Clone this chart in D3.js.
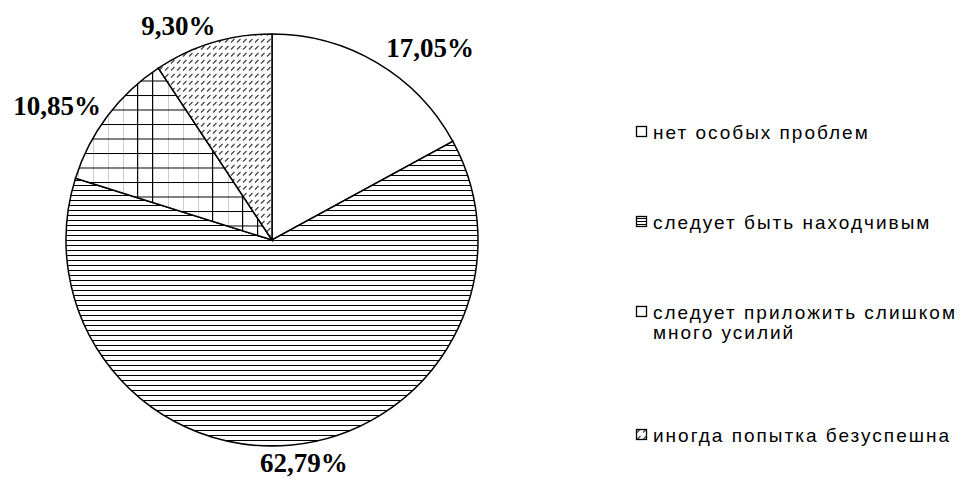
<!DOCTYPE html>
<meta charset="utf-8">
<title>Pie</title>
<style>
body { margin: 0; background: #fff; }
.slices path { stroke: #000; stroke-width: 1.5px; }
.labels text { font-family: "Liberation Serif", "Times New Roman", serif; font-weight: bold; font-size: 27px; }
.legend text { font-family: "Liberation Sans", Arial, sans-serif; font-size: 19px; letter-spacing: 2px; }
</style>
<svg width="972" height="480"></svg>
<script src="https://cdn.jsdelivr.net/npm/d3@7"></script>
<script>
var categories = ["нет особых проблем", "следует быть находчивым", "следует приложить слишком много усилий", "иногда попытка безуспешна"];
var legendLines = [["нет особых проблем"], ["следует быть находчивым"], ["следует приложить слишком", "много усилий"], ["иногда попытка безуспешна"]];
var values = [17.05, 62.79, 10.85, 9.30];
var labels = ["17,05%", "62,79%", "10,85%", "9,30%"];
var fills = ["url(#none)", "url(#hlines)", "url(#grid)", "url(#hatch)"];
var legendFills = ["#fff", "url(#hlinesS)", "#fff", "url(#hatch)"];

var svg = d3.select("svg"),
    cx = 272, cy = 240, r = 206;

var defs = svg.append("defs");

// fill patterns
var p0 = defs.append("pattern").attr("id", "none").attr("patternUnits", "userSpaceOnUse").attr("width", 10).attr("height", 10);
p0.append("rect").attr("width", 10).attr("height", 10).attr("fill", "#fff");

var p1 = defs.append("pattern").attr("id", "hlines").attr("patternUnits", "userSpaceOnUse").attr("width", 10).attr("height", 5);
p1.append("rect").attr("width", 10).attr("height", 5).attr("fill", "#fff");
p1.append("line").attr("x1", 0).attr("x2", 10).attr("y1", 0.5).attr("y2", 0.5).attr("stroke", "#000").attr("stroke-width", 1);

var p1s = defs.append("pattern").attr("id", "hlinesS").attr("patternUnits", "userSpaceOnUse").attr("width", 10).attr("height", 3);
p1s.append("rect").attr("width", 10).attr("height", 3).attr("fill", "#fff");
p1s.append("line").attr("x1", 0).attr("x2", 10).attr("y1", 0.5).attr("y2", 0.5).attr("stroke", "#000").attr("stroke-width", 1);

var p2 = defs.append("pattern").attr("id", "grid").attr("patternUnits", "userSpaceOnUse").attr("width", 15).attr("height", 14.5);
p2.append("rect").attr("width", 15).attr("height", 14.5).attr("fill", "#fff");
p2.append("line").attr("x1", 0.5).attr("x2", 0.5).attr("y1", 0).attr("y2", 14.5).attr("stroke", "#000").attr("stroke-width", 1.4);
p2.append("line").attr("x1", 0).attr("x2", 15).attr("y1", 0.5).attr("y2", 0.5).attr("stroke", "#000").attr("stroke-width", 1);

var p3 = defs.append("pattern").attr("id", "hatch").attr("patternUnits", "userSpaceOnUse").attr("width", 6).attr("height", 7);
p3.append("rect").attr("width", 6).attr("height", 7).attr("fill", "#fff");
p3.append("line").attr("x1", 1).attr("y1", 5.5).attr("x2", 4.5).attr("y2", 2).attr("stroke", "#444").attr("stroke-width", 1.3);

var pie = d3.pie().sort(null).value(function(d) { return d; });
var arcs = pie(values);
var arc = d3.arc().innerRadius(0).outerRadius(r);
var labelArc = d3.arc().innerRadius(224).outerRadius(224);

var g = svg.append("g").attr("transform", "translate(" + cx + "," + cy + ")");

g.append("g").attr("class", "slices")
  .selectAll("path")
  .data(arcs)
  .enter().append("path")
    .attr("d", arc)
    .attr("fill", function(d, i) { return fills[i]; });

g.append("g").attr("class", "labels")
  .selectAll("text")
  .data(arcs)
  .enter().append("text")
    .attr("x", function(d) {
      var x = labelArc.centroid(d)[0];
      return Math.abs(x) < 40 ? x + 10 : (x > 0 ? x : x + 8);
    })
    .attr("y", function(d) { return labelArc.centroid(d)[1]; })
    .attr("dy", "0.35em")
    .attr("text-anchor", function(d) {
      var x = labelArc.centroid(d)[0];
      return Math.abs(x) < 40 ? "middle" : (x > 0 ? "start" : "end");
    })
    .text(function(d, i) { return labels[i]; });

// legend: entries spaced by index and by the extra wrapped lines before them
var slots = [], lineCount = 0;
legendLines.forEach(function(l, i) { slots.push(i + lineCount * 0.58); lineCount += l.length; });
var ly = d3.scaleLinear().domain([0, slots[slots.length - 1]]).range([131, 434]);

var legend = svg.append("g").attr("class", "legend")
  .selectAll("g")
  .data(categories)
  .enter().append("g")
    .attr("transform", function(d, i) { return "translate(636," + ly(slots[i]) + ")"; });

legend.append("rect")
    .attr("x", 0.5).attr("y", -4.5)
    .attr("width", 10).attr("height", 10)
    .attr("fill", function(d, i) { return legendFills[i]; })
    .attr("stroke", "#000").attr("stroke-width", 1.3);

legend.append("text")
    .attr("x", 17)
    .each(function(d, i) {
      var t = d3.select(this);
      legendLines[i].forEach(function(s, k) {
        t.append("tspan").attr("x", 17).attr("dy", k === 0 ? "0.4em" : "1.05em").text(s);
      });
    });
</script>
